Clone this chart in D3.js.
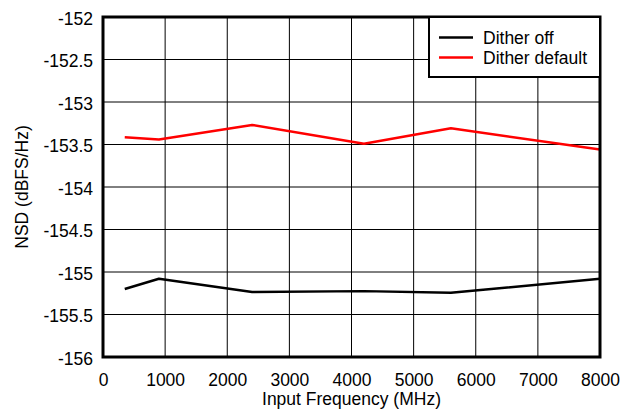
<!DOCTYPE html>
<html><head><meta charset="utf-8">
<script src="https://cdn.jsdelivr.net/npm/d3@7"></script>
<style>body{margin:0;background:#fff}text{font-family:"Liberation Sans",Arial,sans-serif}</style>
</head><body><svg id="c" width="627" height="409"></svg>
<script>
const freqs = [350, 900, 2400, 4200, 5600, 8000];
const ditherOff = [-155.20, -155.08, -155.235, -155.225, -155.245, -155.08];
const ditherDefault = [-153.415, -153.44, -153.27, -153.49, -153.31, -153.56];
const seriesNames = ["Dither off", "Dither default"];
const seriesColors = ["#000000", "#ff0000"];
const xTicks = [0,1000,2000,3000,4000,5000,6000,7000,8000];
const yTicks = [-152,-152.5,-153,-153.5,-154,-154.5,-155,-155.5,-156];

const FS = 17.5;
const svg = d3.select("#c");
const L=103, R=600, T=17, B=357;
const x = d3.scaleLinear().domain([0,8000]).range([L,R]);
const y = d3.scaleLinear().domain([-156,-152]).range([B,T]);

// grid
svg.append("g").selectAll("line").data(xTicks).join("line")
  .attr("x1",d=>x(d)).attr("x2",d=>x(d)).attr("y1",T).attr("y2",B)
  .attr("stroke","#000").attr("stroke-width",1);
svg.append("g").selectAll("line").data(yTicks).join("line")
  .attr("x1",L).attr("x2",R).attr("y1",d=>y(d)).attr("y2",d=>y(d))
  .attr("stroke","#000").attr("stroke-width",1);

// axes labels
const xa = svg.append("g").attr("transform",`translate(0,${B})`)
  .call(d3.axisBottom(x).tickValues(xTicks).tickSize(0).tickPadding(17).tickFormat(d3.format("d")));
xa.select(".domain").remove();
xa.selectAll("text").attr("font-size",FS).attr("fill","#000").style("font-family","Liberation Sans, Arial, sans-serif");
const ya = svg.append("g").attr("transform",`translate(${L},0)`)
  .call(d3.axisLeft(y).tickValues(yTicks).tickSize(0).tickPadding(10).tickFormat(d=>String(d)));
ya.select(".domain").remove();
ya.selectAll("text").attr("font-size",FS).attr("fill","#000").attr("dy","0.42em").style("font-family","Liberation Sans, Arial, sans-serif");

// lines
const line = d3.line().x((d,i)=>x(freqs[i])).y(d=>y(d));
[ditherOff, ditherDefault].forEach((s,k)=>{
  svg.append("path").datum(s).attr("d",line).attr("fill","none")
    .attr("stroke",seriesColors[k]).attr("stroke-width",2.5).attr("stroke-linejoin","round");
});

// frame
svg.append("rect").attr("x",L).attr("y",T).attr("width",R-L).attr("height",B-T)
  .attr("fill","none").attr("stroke","#000").attr("stroke-width",3);

// legend
const lg = svg.append("g");
lg.append("rect").attr("x",429).attr("y",T).attr("width",R-429).attr("height",60)
  .attr("fill","#fff").attr("stroke","#000").attr("stroke-width",2);
seriesNames.forEach((n,i)=>{
  const yy = 37.5 + i*20;
  lg.append("line").attr("x1",439).attr("x2",473).attr("y1",yy).attr("y2",yy)
    .attr("stroke",seriesColors[i]).attr("stroke-width",2.5);
  lg.append("text").attr("x",483).attr("y",yy+6).attr("font-size",FS).attr("fill","#000").text(n);
});

// titles
svg.append("text").attr("x",(L+R)/2).attr("y",405).attr("text-anchor","middle")
  .attr("font-size",FS).text("Input Frequency (MHz)");
svg.append("text").attr("transform",`translate(28,${(T+B)/2}) rotate(-90)`).attr("text-anchor","middle")
  .attr("font-size",FS).text("NSD (dBFS/Hz)");
</script></body></html>
